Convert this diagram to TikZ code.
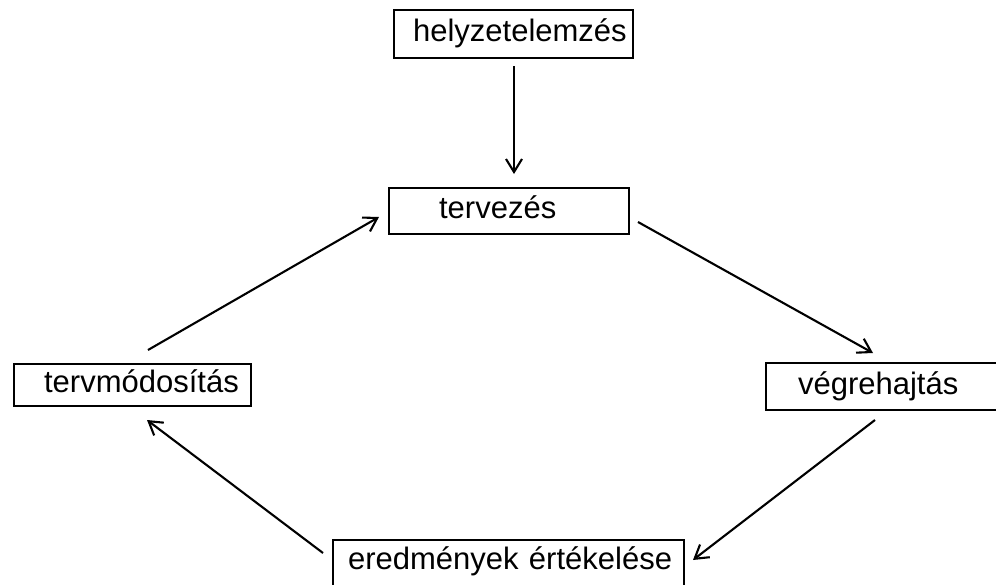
\documentclass[tikz,border=0pt]{standalone}
\usepackage{fontspec}
\setmainfont{Liberation Sans}
\usetikzlibrary{arrows.meta}
\begin{document}
\begin{tikzpicture}[x=1pt,y=-1pt,
  box/.style={draw, line width=2.2pt, rectangle, anchor=north west,
    font=\fontsize{31}{36}\selectfont, align=left,
    text height=22pt, text depth=7pt, inner ysep=0pt},
  conn/.style={line width=2.1pt, -{Straight Barb[length=13pt,width=16pt,line width=2.1pt]}}]
\useasboundingbox (0,0) rectangle (996,584);
\clip (0,0) rectangle (996,584);
\fill[white] (0,0) rectangle (996,584);
% boxes: inner xsep = left padding, text width = W - 2*pad
\node[box, inner xsep=19pt, text width=201pt, minimum height=48pt] (hely) at (393,9) {helyzetelemzés};
\node[box, inner xsep=50pt, text width=140pt, minimum height=46pt] (terv) at (388,187) {tervezés};
\node[box, inner xsep=30pt, text width=177pt, minimum height=42pt] (mod) at (13,363) {tervmódosítás};
\node[box, inner xsep=32pt, text width=176pt, minimum height=47pt] (vegre) at (765,362) {végrehajtás};
\node[box, inner xsep=15pt, text width=321pt, minimum height=50pt, text depth=14pt] (ered) at (332,539) {\makebox[321pt][l]{eredmények értékelése}};
% connector end points
\coordinate (a1s) at (514,66);
\coordinate (a1e) at (514,174);
\coordinate (a2s) at (638,222);
\coordinate (a2e) at (873,353);
\coordinate (a3s) at (875,420);
\coordinate (a3e) at (693,560);
\coordinate (a4s) at (323,553);
\coordinate (a4e) at (147,420);
\coordinate (a5s) at (148,350);
\coordinate (a5e) at (379,217);
\draw[conn] (a1s) -- (a1e);
\draw[conn] (a2s) -- (a2e);
\draw[conn] (a3s) -- (a3e);
\draw[conn] (a4s) -- (a4e);
\draw[conn] (a5s) -- (a5e);
\end{tikzpicture}
\end{document}
